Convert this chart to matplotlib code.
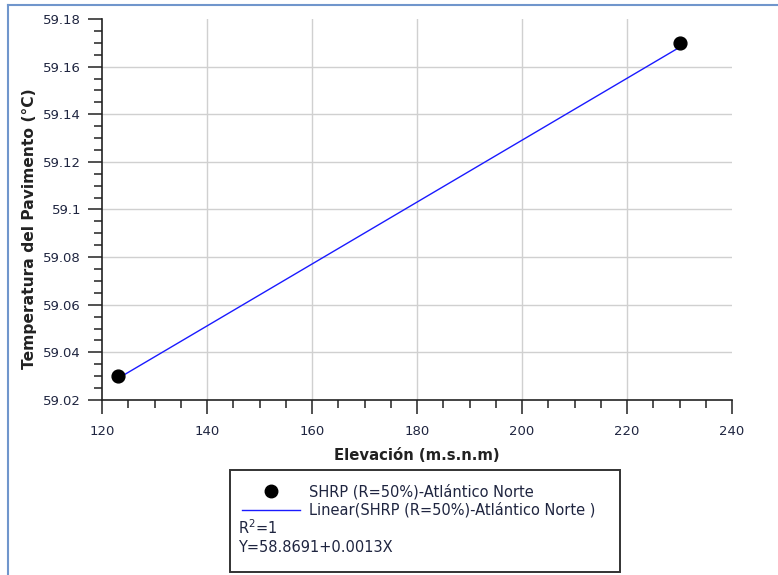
import matplotlib
matplotlib.use('Agg')
import matplotlib.pyplot as plt
from matplotlib.lines import Line2D
from matplotlib.patches import Rectangle
from matplotlib.ticker import MultipleLocator

# data
elev = [123, 230]
temp = [59.03, 59.17]
fit_a = 58.8691
fit_b = 0.0013
xticks = [120, 140, 160, 180, 200, 220, 240]
yticks = [59.02, 59.04, 59.06, 59.08, 59.1, 59.12, 59.14, 59.16, 59.18]
ytick_labels = ['59.02', '59.04', '59.06', '59.08', '59.1', '59.12', '59.14', '59.16', '59.18']
lbl_pts = 'SHRP (R=50%)-Atlántico Norte'
lbl_fit = 'Linear(SHRP (R=50%)-Atlántico Norte )'
r2_text = 'R$^2$=1'
eq_text = 'Y=58.8691+0.0013X'

W, H = 778, 575
fig = plt.figure(figsize=(W / 100, H / 100), dpi=100)
ax = fig.add_axes([102 / W, 1 - 400 / H, 630 / W, 381 / H])

fit_y = [fit_a + fit_b * x for x in elev]
ax.plot(elev, fit_y, color='#1a1aff', lw=1.0, zorder=3)
ax.scatter(elev, temp, s=85, color='black', zorder=4)

ax.set_xlim(120, 240)
ax.set_ylim(59.02, 59.18)
ax.set_xticks(xticks)
ax.set_yticks(yticks)
ax.set_yticklabels(ytick_labels)
ax.xaxis.set_minor_locator(MultipleLocator(5))
ax.yaxis.set_minor_locator(MultipleLocator(0.005))

for s in ['top', 'right']:
    ax.spines[s].set_visible(False)
for s in ['left', 'bottom']:
    ax.spines[s].set_linewidth(1.2)
    ax.spines[s].set_color('#222222')

ax.tick_params(which='major', direction='out', length=10, width=1.1, color='#222222',
               labelsize=9.5, labelcolor='#1f2540')
ax.tick_params(which='minor', direction='out', length=5.5, width=1.1, color='#222222')
ax.tick_params(axis='x', which='major', pad=8)
ax.tick_params(axis='y', which='major', pad=5)

ax.grid(True, which='major', color='#d0d0d0', lw=1.0)
ax.set_axisbelow(True)
# no grid lines on the axis ends
for gl in [ax.xaxis.get_gridlines()[0], ax.xaxis.get_gridlines()[-1],
           ax.yaxis.get_gridlines()[0], ax.yaxis.get_gridlines()[-1]]:
    gl.set_visible(False)

ax.set_xlabel('Elevación (m.s.n.m)', fontsize=10.7, fontweight='bold', color='#222222', labelpad=7)
ax.set_ylabel('Temperatura del Pavimento (°C)', fontsize=11.2, fontweight='bold', color='#222222')
ax.yaxis.set_label_coords(-65 / 630, 0.45)

# legend box
box = Rectangle((230 / W, 1 - 572 / H), 390 / W, 102 / H, transform=fig.transFigure,
                fill=False, edgecolor='#333333', lw=1.4)
fig.add_artist(box)
handles = [Line2D([], [], ls='none', marker='o', color='black', markersize=9),
           Line2D([], [], color='#1a1aff', lw=1.0)]
fig.legend(handles, [lbl_pts, lbl_fit], loc='upper left',
           bbox_to_anchor=(242 / W, 1 - 484 / H), frameon=False, fontsize=10.5,
           handlelength=4.0, handletextpad=0.6, labelspacing=0.2, borderpad=0,
           borderaxespad=0, labelcolor='#1f2540')
fig.text(238 / W, 1 - 528 / H, r2_text, fontsize=10.5, va='center', color='#1f2540')
fig.text(238 / W, 1 - 548 / H, eq_text, fontsize=10.5, va='center', color='#1f2540')

# window border
fig.add_artist(Line2D([8 / W, 8 / W], [0, 1 - 5 / H], transform=fig.transFigure,
                      color='#7096cc', lw=1.5))
fig.add_artist(Line2D([8 / W, 1], [1 - 5 / H, 1 - 5 / H], transform=fig.transFigure,
                      color='#7096cc', lw=1.5))

fig.savefig('out.png', dpi=100)
